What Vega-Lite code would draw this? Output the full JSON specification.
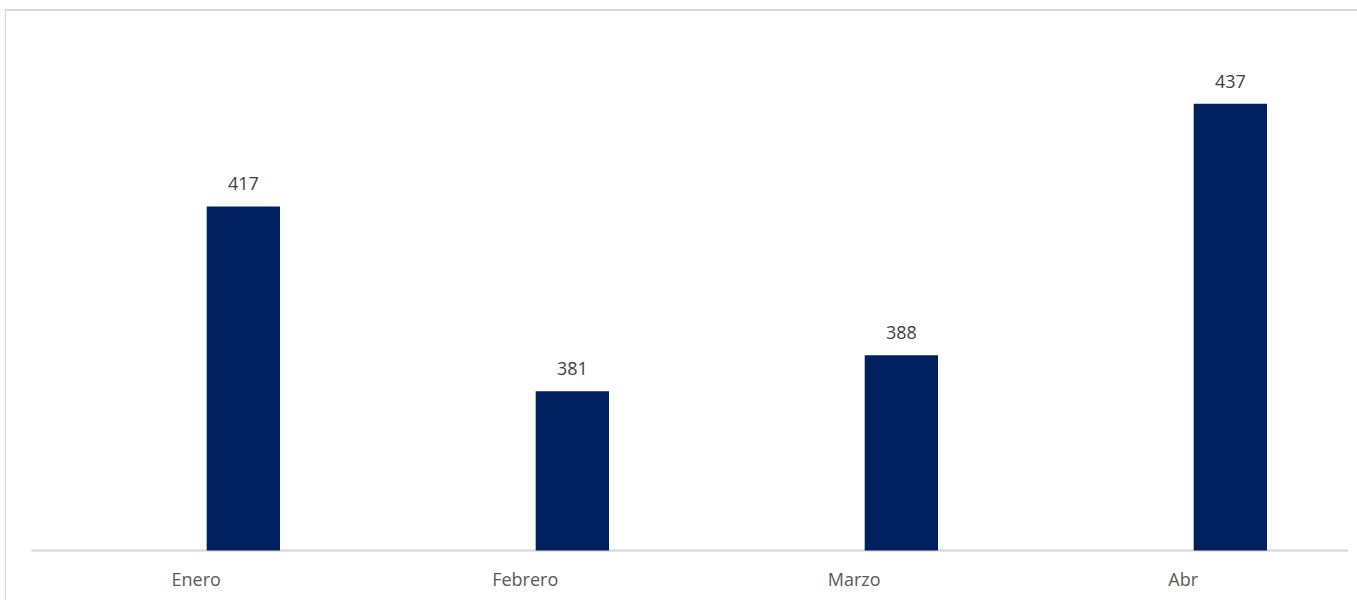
{
  "$schema": "https://vega.github.io/schema/vega-lite/v6.json",
  "autosize": {"type": "none"},
  "width": 1352,
  "height": 590,
  "padding": {"left": 5, "top": 10, "right": 0, "bottom": 0},
  "background": "white",
  "config": {
    "view": {"stroke": null},
    "font": "Open Sans"
  },
  "data": {
    "values": [
      {"mes": "Enero", "serie": "v", "valor": 417},
      {"mes": "Febrero", "serie": "v", "valor": 381},
      {"mes": "Marzo", "serie": "v", "valor": 388},
      {"mes": "Abr", "serie": "v", "valor": 437}
    ]
  },
  "encoding": {
    "x": {
      "field": "mes",
      "type": "nominal",
      "scale": {"domain": ["Enero", "Febrero", "Marzo", "Abr"], "paddingInner": 0, "paddingOuter": 0.0547, "align": 0.742},
      "axis": {
        "title": null,
        "orient": "bottom",
        "offset": -49.5,
        "domain": false,
        "ticks": false,
        "tickSize": 0,
        "labelPadding": 35,
        "labelBaseline": "alphabetic",
        "labelAngle": 0,
        "labelFontSize": 18,
        "labelColor": "#595959",
        "labelFont": "Open Sans",
        "grid": false
      }
    },
    "xOffset": {
      "field": "serie",
      "type": "nominal",
      "scale": {"domain": ["a", "b", "v", "d"], "paddingInner": 0, "paddingOuter": 0.244, "align": 0.793}
    },
    "y": {
      "field": "valor",
      "type": "quantitative",
      "scale": {"domain": [340.36, 455.26], "nice": false, "zero": false},
      "axis": {
        "title": null,
        "labels": false,
        "ticks": false,
        "grid": false,
        "domain": true,
        "domainColor": "#d9d9d9",
        "domainWidth": 1.3
      }
    }
  },
  "layer": [
    {
      "mark": {"type": "rule", "color": "#d9d9d9", "strokeWidth": 1.3},
      "encoding": {
        "x": null,
        "xOffset": null,
        "y": {"datum": 455.26, "type": "quantitative"}
      }
    },
    {
      "mark": {"type": "rule", "color": "#d9d9d9", "strokeWidth": 1.3},
      "encoding": {
        "x": {"datum": "Enero", "type": "nominal", "bandPosition": 0},
        "x2": {"datum": "Abr", "bandPosition": 1},
        "xOffset": null,
        "y": {"datum": 350, "type": "quantitative"}
      }
    },
    {
      "mark": {"type": "bar", "color": "#002060"},
      "encoding": {
        "y2": {"datum": 350}
      }
    },
    {
      "mark": {"type": "text", "baseline": "alphabetic", "dy": -16, "fontSize": 18, "color": "#404040", "font": "Open Sans"},
      "encoding": {
        "text": {"field": "valor", "type": "quantitative"}
      }
    }
  ]
}
